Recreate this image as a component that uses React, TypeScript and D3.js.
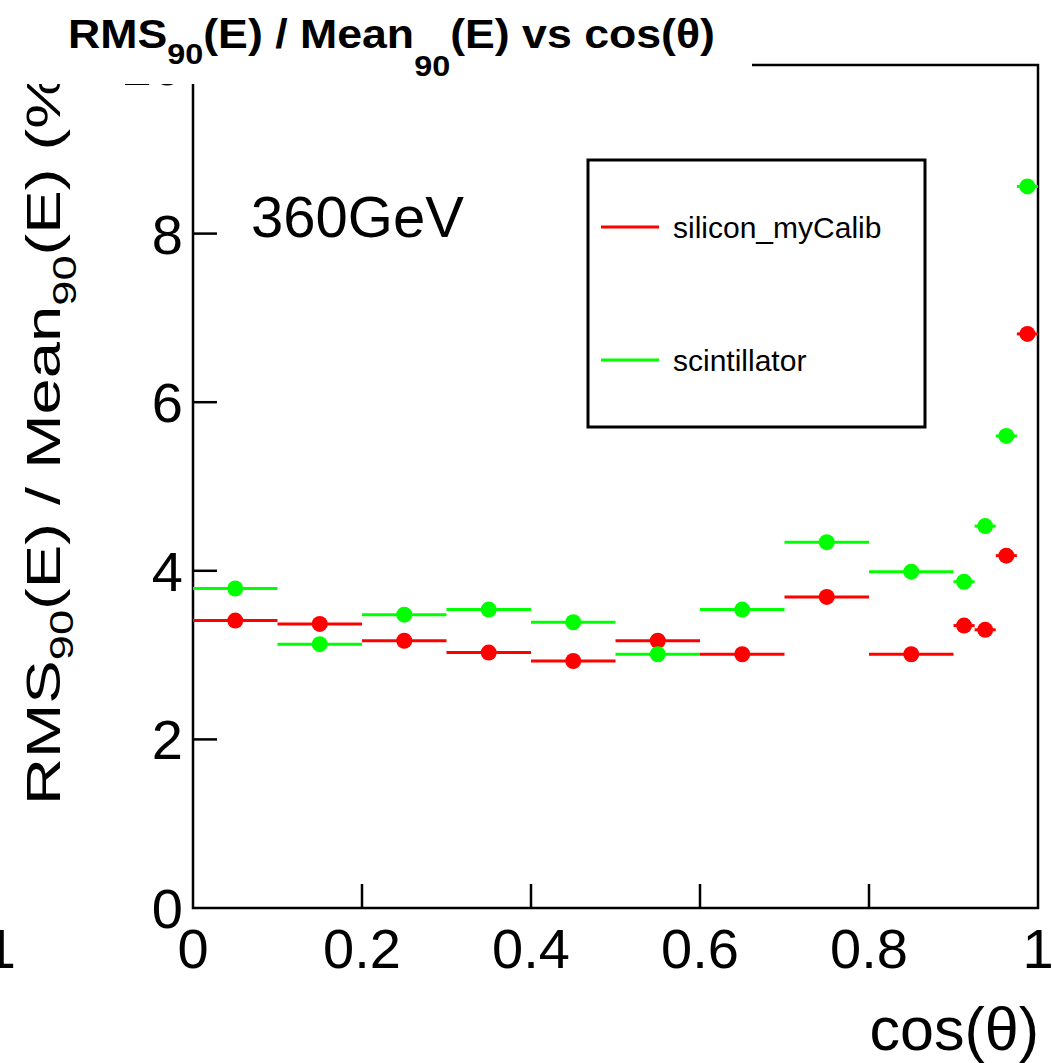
import React from "react";
import * as d3 from "d3";

const binLow = [0, 0.1, 0.2, 0.3, 0.4, 0.5, 0.6, 0.7, 0.8, 0.9, 0.925, 0.95, 0.975];
const binHigh = [0.1, 0.2, 0.3, 0.4, 0.5, 0.6, 0.7, 0.8, 0.9, 0.925, 0.95, 0.975, 1.0];
const silicon = [3.41, 3.37, 3.17, 3.03, 2.93, 3.17, 3.01, 3.69, 3.01, 3.35, 3.3, 4.18, 6.81];
const scintillator = [3.79, 3.13, 3.48, 3.54, 3.39, 3.01, 3.54, 4.34, 3.99, 3.87, 4.53, 5.6, 8.56];
const xTicks = [0, 0.2, 0.4, 0.6, 0.8, 1];
const yTicks = [0, 2, 4, 6, 8, 10];
const seriesNames = ["silicon_myCalib", "scintillator"];
const seriesColors = ["#ff0000", "#00ff00"];

const FONT = "'Liberation Sans', Arial, Helvetica, sans-serif";

export default function App() {
  const W = 1052, H = 1063;
  const x = d3.scaleLinear().domain([0, 1]).range([193, 1038]);
  const y = d3.scaleLinear().domain([0, 10]).range([908, 65]);
  const series = [silicon, scintillator];
  const fmtX = (v: number) => (v === 0 || v === 1 ? d3.format("d")(v) : d3.format(".1f")(v));

  return (
    <svg width={W} height={H} style={{ position: "absolute", left: 0, top: 0, background: "#fff" }} fontFamily={FONT}>
      <rect x={0} y={0} width={W} height={H} fill="#fff" />
      {/* frame */}
      <rect x={x(0)} y={y(10)} width={x(1) - x(0)} height={y(0) - y(10)} fill="none" stroke="#000" strokeWidth={2.5} />
      {/* x ticks */}
      {xTicks.map((t) => (
        <g key={"xt" + t}>
          {t > 0 && t < 1 && <line x1={x(t)} x2={x(t)} y1={y(0)} y2={y(0) - 24} stroke="#000" strokeWidth={2.5} />}
          <text x={x(t)} y={968} fontSize={56} textAnchor="middle">{fmtX(t)}</text>
        </g>
      ))}
      {/* y ticks */}
      {yTicks.map((t) => (
        <g key={"yt" + t}>
          {t > 0 && t < 10 && <line x1={x(0)} x2={x(0) + 24} y1={y(t)} y2={y(t)} stroke="#000" strokeWidth={2.5} />}
          <text x={183} y={y(t) + 20} fontSize={56} textAnchor="end">{t}</text>
        </g>
      ))}
      {/* stray glyph at left edge */}
      <text x={16} y={968} fontSize={56} textAnchor="end">1</text>

      {/* data */}
      {series.map((s, si) => (
        <g key={"s" + si}>
          {s.map((v, i) => (
            <g key={i}>
              <line x1={x(binLow[i])} x2={x(binHigh[i])} y1={y(v)} y2={y(v)} stroke={seriesColors[si]} strokeWidth={3} />
              <circle cx={x((binLow[i] + binHigh[i]) / 2)} cy={y(v)} r={8} fill={seriesColors[si]} />
            </g>
          ))}
        </g>
      ))}

      {/* legend */}
      <rect x={588} y={160} width={337} height={267} fill="#fff" stroke="#000" strokeWidth={3} />
      {seriesNames.map((n, i) => (
        <g key={n}>
          <line x1={601} x2={659} y1={227 + i * 133} y2={227 + i * 133} stroke={seriesColors[i]} strokeWidth={3} />
          <text x={673} y={238 + i * 133} fontSize={30} fill="#000">{n}</text>
        </g>
      ))}

      <text x={251} y={237} fontSize={58}>360GeV</text>

      {/* y title */}
      <text transform="translate(60,805) rotate(-90) scale(1.33,1)" fontSize={49}>
        RMS<tspan fontSize={34} dy={13}>90</tspan><tspan dy={-13}>(E) / Mean</tspan><tspan fontSize={34} dy={16}>90</tspan><tspan dy={-16}>(E) (%)</tspan>
      </text>

      {/* x title */}
      <text x={1039} y={1050} fontSize={61} textAnchor="end">cos(θ)</text>

      {/* title box */}
      <rect x={0} y={0} width={752} height={84} fill="#fff" />
      <text x={68} y={48} fontSize={40} fontWeight="bold" textLength={647} lengthAdjust="spacingAndGlyphs">
        RMS<tspan fontSize={29} dy={16}>90</tspan><tspan dy={-16}>(E) / Mean</tspan><tspan fontSize={29} dy={28}>90</tspan><tspan dy={-28}>(E) vs cos(θ)</tspan>
      </text>
    </svg>
  );
}
